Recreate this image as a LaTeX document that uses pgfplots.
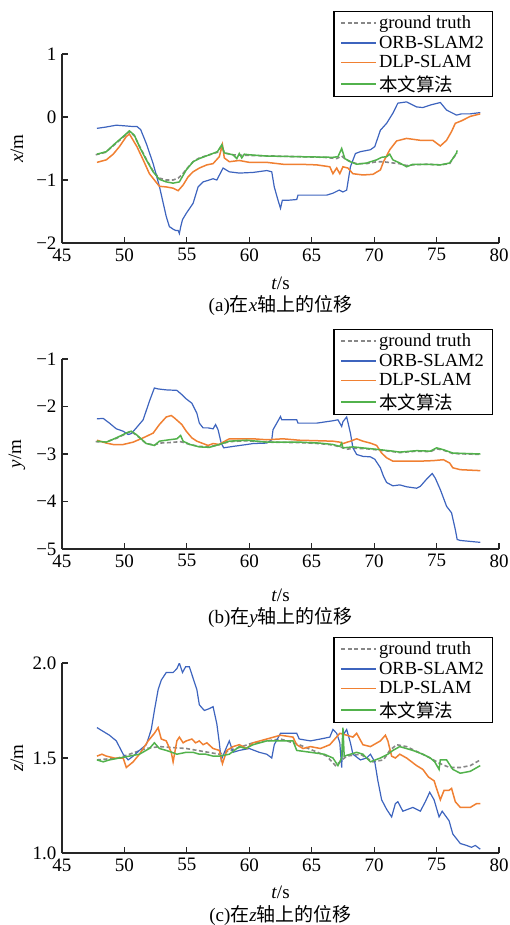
\documentclass[border=0pt]{standalone}
\usepackage{fontspec}
\setmainfont{Liberation Serif}
\newfontfamily\cjk{Noto Sans CJK SC}
\usepackage{pgfplots}
\pgfplotsset{compat=1.18}
\definecolor{cblue}{RGB}{61,100,190}
\definecolor{dlporange}{RGB}{240,128,50}
\definecolor{cgreen}{RGB}{82,178,76}
\definecolor{cgray}{RGB}{135,135,135}
\pgfplotsset{
  myax/.style={
    scale only axis, width=437pt,
    axis x line*=bottom, axis y line*=left,
    xmin=45, xmax=80, xtick={45,50,...,80},
    /pgf/number format/assume math mode=true,
    tick align=inside, major tick length=6pt,
    axis line style={line width=1.2pt, black!85, -},
    tick style={line width=1.2pt, black!85},
    font=\fontsize{19}{21}\selectfont,
    xticklabel style={yshift=-2pt},
    yticklabel style={xshift=-2pt},
    xlabel={\textit{t}/s},
    every axis x label/.style={at={(axis description cs:0.5,0)},anchor=center,yshift=-40pt},
    every axis y label/.style={at={(axis description cs:-0.103,0.5)},anchor=center,rotate=90},
    legend cell align=left,
    legend style={anchor=north east, at={(axis description cs:1,1)}, xshift=-6pt,
      draw=black, line width=1.2pt, font=\fontsize{18.5}{20}\selectfont,
      row sep=2pt, inner xsep=6.5pt, inner ysep=2pt},
  },
  gt/.style={cgray, line width=1.6pt, dash pattern=on 4pt off 2.5pt},
  orb/.style={solid, cblue, line width=1.2pt},
  dlp/.style={solid, dlporange, line width=1.5pt},
  our/.style={solid, cgreen, line width=1.5pt},
  legend image code/.code={\draw[#1] (0pt,0pt) -- (35pt,0pt);},
}
\newcommand{\legs}{%
  \addlegendimage{cgray, line width=1.6pt, dash pattern=on 4pt off 2.5pt}\addlegendentry{ground truth}
  \addlegendimage{color=cblue, line width=1.4pt}\addlegendentry{ORB-SLAM2}
  \addlegendimage{color=dlporange, line width=1.6pt}\addlegendentry{DLP-SLAM}
  \addlegendimage{color=cgreen, line width=1.6pt}\addlegendentry{{\cjk 本文算法}}}
\begin{document}
\begin{tikzpicture}
\useasboundingbox (0,0) rectangle (510pt,-925pt);
% ---------------- panel (a)
\begin{axis}[myax, at={(62pt,-243pt)}, anchor=south west, height=189pt,
  ymin=-2, ymax=1, ytick={-2,-1,0,1}, yticklabels={−2,−1,0,1},
  ylabel={\textit{x}/m}, legend style={yshift=43pt}]
\legs
\addplot[gt, forget plot] coordinates {(47.7,-0.60)(48.5,-0.56)(49.2,-0.44)(49.9,-0.32)(50.4,-0.23)(50.8,-0.30)(51.2,-0.46)(51.75,-0.67)(52.3,-0.86)(52.8,-0.97)(53.35,-1.0)(53.9,-1.0)(54.3,-0.97)(54.6,-0.92)(55.0,-0.82)(55.5,-0.71)(56.0,-0.65)(56.8,-0.60)(57.45,-0.56)(57.8,-0.46)(58.0,-0.57)(58.7,-0.60)(60,-0.61)(62,-0.62)(64,-0.63)(66,-0.64)(67.0,-0.66)(67.4,-0.62)(67.7,-0.67)(68.1,-0.71)(68.6,-0.74)(69.4,-0.74)(70.2,-0.71)(70.75,-0.71)(71.5,-0.73)(72.0,-0.74)(72.6,-0.77)(73.1,-0.76)(74.2,-0.75)(75.3,-0.76)(76.05,-0.74)(76.3,-0.66)(76.65,-0.57)};
\addplot[orb, forget plot] coordinates {(47.8,-0.18)(48.5,-0.16)(49.35,-0.13)(50.0,-0.14)(50.6,-0.15)(51.0,-0.15)(51.3,-0.20)(51.75,-0.42)(52.3,-0.74)(52.8,-1.10)(53.35,-1.58)(53.6,-1.74)(53.9,-1.78)(54.1,-1.80)(54.3,-1.80)(54.4,-1.85)(54.5,-1.75)(54.65,-1.63)(54.95,-1.53)(55.5,-1.37)(55.9,-1.11)(56.3,-1.03)(56.8,-1.00)(57.1,-0.98)(57.4,-1.00)(57.9,-0.81)(58.4,-0.87)(59.2,-0.89)(60.3,-0.88)(61.4,-0.85)(61.8,-0.87)(62.0,-1.11)(62.3,-1.32)(62.5,-1.45)(62.65,-1.32)(63.2,-1.32)(63.8,-1.31)(63.9,-1.24)(65.1,-1.24)(66.2,-1.24)(66.7,-1.21)(67.2,-1.16)(67.5,-1.19)(67.8,-1.16)(68.1,-0.79)(68.5,-0.58)(68.9,-0.55)(69.7,-0.52)(70.05,-0.47)(70.5,-0.21)(71.0,-0.10)(71.5,0.06)(71.9,0.22)(72.6,0.24)(73.4,0.16)(73.9,0.15)(74.5,0.19)(75.3,0.23)(75.8,0.11)(76.6,0.03)(77.0,0.05)(77.7,0.05)(78.5,0.07)};
\addplot[dlp, forget plot] coordinates {(47.8,-0.72)(48.55,-0.68)(49.1,-0.59)(49.6,-0.47)(50.15,-0.31)(50.4,-0.27)(51.0,-0.47)(51.5,-0.68)(52.0,-0.90)(52.6,-1.05)(52.8,-1.10)(53.35,-1.11)(53.9,-1.13)(54.3,-1.17)(54.7,-1.08)(55.1,-0.95)(55.5,-0.87)(56.0,-0.81)(56.6,-0.76)(57.1,-0.74)(57.6,-0.63)(57.85,-0.44)(58.0,-0.65)(58.4,-0.71)(59.2,-0.69)(60.0,-0.72)(61.4,-0.72)(62.7,-0.75)(64.0,-0.75)(65.4,-0.76)(66.45,-0.79)(66.7,-0.90)(67.0,-0.81)(67.25,-0.90)(67.5,-0.79)(67.9,-0.81)(68.3,-0.90)(69.1,-0.92)(69.9,-0.91)(70.5,-0.84)(70.75,-0.71)(71.25,-0.52)(71.8,-0.38)(72.6,-0.34)(73.7,-0.37)(74.7,-0.37)(75.3,-0.46)(75.8,-0.37)(76.2,-0.23)(76.5,-0.10)(77.0,-0.06)(77.7,0.01)(78.5,0.05)};
\addplot[our, forget plot] coordinates {(47.8,-0.59)(48.55,-0.55)(49.2,-0.43)(49.9,-0.31)(50.4,-0.22)(50.8,-0.29)(51.2,-0.47)(51.75,-0.68)(52.3,-0.87)(52.8,-0.99)(53.35,-1.03)(53.9,-1.05)(54.4,-1.03)(54.95,-0.84)(55.5,-0.71)(56.0,-0.66)(56.8,-0.60)(57.45,-0.55)(57.8,-0.44)(58.0,-0.57)(58.7,-0.60)(59.0,-0.66)(59.2,-0.58)(59.4,-0.65)(59.6,-0.59)(60.0,-0.60)(61.4,-0.62)(64.0,-0.63)(66.7,-0.64)(67.1,-0.63)(67.4,-0.50)(67.65,-0.66)(68.1,-0.71)(68.6,-0.75)(69.4,-0.73)(70.2,-0.68)(70.6,-0.64)(71.0,-0.63)(71.25,-0.59)(71.5,-0.68)(72.05,-0.73)(72.6,-0.79)(73.1,-0.75)(74.2,-0.75)(75.3,-0.76)(76.05,-0.73)(76.3,-0.66)(76.6,-0.57)(76.65,-0.53)};
\end{axis}
\node[font=\fontsize{19}{21}\selectfont] at (280.5pt,-305pt) {(a){\cjk 在}\textit{x}{\cjk 轴上的位移}};
% ---------------- panel (b)
\begin{axis}[myax, at={(62pt,-549pt)}, anchor=south west, height=190pt,
  ymin=-5, ymax=-1, ytick={-5,-4,-3,-2,-1}, yticklabels={−5,−4,−3,−2,−1},
  ylabel={\textit{y}/m}, legend style={yshift=30pt},
  every axis x label/.style={at={(axis description cs:0.5,0)},anchor=center,yshift=-46pt}]
\legs
\addplot[gt, forget plot] coordinates {(47.7,-2.74)(48.5,-2.75)(49.35,-2.67)(50.3,-2.55)(50.55,-2.53)(50.95,-2.60)(51.75,-2.78)(52.4,-2.81)(52.8,-2.77)(53.6,-2.76)(54.5,-2.74)(55.25,-2.80)(56.0,-2.84)(56.8,-2.85)(57.6,-2.80)(58.4,-2.74)(59.8,-2.72)(61.4,-2.75)(64,-2.76)(65.6,-2.78)(66.7,-2.81)(67.4,-2.86)(67.8,-2.90)(68.3,-2.88)(69.4,-2.89)(70.5,-2.92)(71.5,-2.95)(72.05,-2.97)(73.4,-2.94)(74.5,-2.95)(75.0,-2.89)(75.55,-2.92)(76.3,-2.99)(78.5,-3.01)};
\addplot[orb, forget plot] coordinates {(47.8,-2.26)(48.3,-2.25)(48.8,-2.35)(49.35,-2.47)(49.9,-2.52)(50.3,-2.59)(50.55,-2.57)(50.95,-2.45)(51.5,-2.28)(52.0,-1.89)(52.4,-1.61)(52.7,-1.63)(53.35,-1.65)(54.2,-1.66)(54.6,-1.75)(54.95,-1.84)(55.4,-1.93)(55.8,-2.14)(56.0,-2.35)(56.3,-2.45)(56.7,-2.45)(57.1,-2.47)(57.3,-2.38)(57.5,-2.49)(57.75,-2.77)(57.95,-2.87)(58.7,-2.84)(59.8,-2.80)(60.3,-2.78)(61.4,-2.77)(61.8,-2.70)(61.9,-2.49)(62.2,-2.35)(62.5,-2.21)(62.6,-2.28)(63.8,-2.28)(63.9,-2.35)(65.4,-2.35)(66.7,-2.30)(67.1,-2.28)(67.4,-2.42)(67.5,-2.32)(67.8,-2.22)(68.1,-2.56)(68.3,-2.87)(68.6,-3.01)(69.1,-3.05)(69.7,-3.06)(70.05,-3.11)(70.5,-3.29)(70.75,-3.47)(71.0,-3.60)(71.5,-3.67)(72.05,-3.65)(72.6,-3.69)(73.4,-3.72)(73.7,-3.68)(74.2,-3.53)(74.65,-3.41)(74.9,-3.51)(75.3,-3.75)(75.8,-4.10)(76.2,-4.24)(76.5,-4.59)(76.65,-4.80)(76.9,-4.82)(77.7,-4.84)(78.5,-4.86)};
\addplot[dlp, forget plot] coordinates {(47.8,-2.71)(48.55,-2.77)(49.1,-2.80)(49.9,-2.80)(50.7,-2.75)(51.5,-2.66)(52.3,-2.56)(52.8,-2.38)(53.35,-2.22)(53.75,-2.19)(54.0,-2.24)(54.6,-2.38)(54.95,-2.52)(55.4,-2.66)(55.8,-2.73)(56.3,-2.78)(56.7,-2.82)(57.1,-2.78)(57.6,-2.80)(57.9,-2.75)(58.4,-2.68)(59.2,-2.68)(60.3,-2.68)(61.4,-2.70)(62.7,-2.68)(64.0,-2.71)(65.4,-2.72)(66.7,-2.73)(67.25,-2.75)(67.5,-2.78)(68.1,-2.73)(68.6,-2.68)(69.1,-2.73)(69.7,-2.77)(70.2,-2.82)(70.6,-2.98)(71.0,-3.08)(71.5,-3.15)(72.6,-3.15)(73.7,-3.15)(74.7,-3.14)(75.55,-3.12)(76.05,-3.19)(76.3,-3.29)(76.9,-3.33)(78.5,-3.35)};
\addplot[our, forget plot] coordinates {(47.8,-2.73)(48.55,-2.75)(49.35,-2.66)(50.3,-2.54)(50.55,-2.52)(50.95,-2.59)(51.75,-2.78)(52.4,-2.82)(52.8,-2.73)(53.6,-2.70)(54.2,-2.68)(54.5,-2.61)(54.7,-2.73)(55.25,-2.80)(56.0,-2.85)(56.8,-2.86)(57.6,-2.80)(58.4,-2.73)(59.8,-2.71)(61.4,-2.75)(64.0,-2.75)(65.6,-2.77)(66.7,-2.80)(67.25,-2.84)(67.4,-2.77)(67.5,-2.87)(68.3,-2.85)(69.4,-2.88)(70.5,-2.91)(71.5,-2.94)(72.05,-2.96)(73.4,-2.93)(74.5,-2.94)(75.0,-2.87)(75.55,-2.91)(76.3,-2.98)(78.5,-3.00)};
\end{axis}
\node[font=\fontsize{19}{21}\selectfont] at (280.5pt,-617pt) {(b){\cjk 在}\textit{y}{\cjk 轴上的位移}};
% ---------------- panel (c)
\begin{axis}[myax, at={(62pt,-853pt)}, anchor=south west, height=190pt,
  ymin=1, ymax=2, ytick={1,1.5,2}, yticklabels={1.0,1.5,2.0},
  ylabel={\textit{z}/m}, legend style={yshift=26pt},
  every axis x label/.style={at={(axis description cs:0.5,0)},anchor=center,yshift=-39pt}]
\legs
\addplot[gt, forget plot] coordinates {(47.8,1.49)(49.5,1.50)(50.4,1.52)(51.75,1.55)(52.8,1.56)(54.95,1.55)(57.6,1.52)(60.3,1.58)(62.5,1.60)(64.0,1.57)(66.2,1.51)(66.9,1.46)(67.8,1.51)(68.9,1.52)(69.9,1.48)(70.75,1.49)(71.25,1.54)(71.8,1.57)(72.6,1.56)(74.2,1.51)(75.3,1.47)(76.05,1.45)(76.9,1.45)(77.7,1.46)(78.5,1.49)};
\addplot[orb, forget plot] coordinates {(47.8,1.66)(48.3,1.64)(48.8,1.62)(49.35,1.59)(49.9,1.52)(50.3,1.49)(50.7,1.51)(51.2,1.54)(51.75,1.57)(52.15,1.65)(52.4,1.75)(52.7,1.86)(52.95,1.91)(53.35,1.95)(53.9,1.95)(54.2,1.97)(54.4,2.0)(54.65,1.95)(54.9,1.98)(55.2,1.98)(55.4,1.94)(55.8,1.86)(56.0,1.78)(56.4,1.75)(56.8,1.76)(57.1,1.77)(57.4,1.68)(57.6,1.58)(57.75,1.49)(58.2,1.56)(58.4,1.59)(58.7,1.53)(59.2,1.54)(60.0,1.55)(60.8,1.53)(61.4,1.52)(61.8,1.50)(62.0,1.57)(62.5,1.63)(63.2,1.63)(63.8,1.63)(64.0,1.60)(64.9,1.59)(65.7,1.60)(66.45,1.61)(66.7,1.65)(67.0,1.63)(67.25,1.58)(67.4,1.45)(67.5,1.62)(67.8,1.65)(68.1,1.58)(68.3,1.52)(68.9,1.49)(69.4,1.50)(69.7,1.52)(70.05,1.48)(70.3,1.38)(70.6,1.28)(71.0,1.23)(71.4,1.19)(71.7,1.26)(71.9,1.27)(72.3,1.22)(73.1,1.24)(73.7,1.22)(74.1,1.27)(74.45,1.32)(74.8,1.28)(75.2,1.19)(75.45,1.22)(76.0,1.17)(76.3,1.10)(76.9,1.05)(77.4,1.04)(77.8,1.03)(78.1,1.04)(78.5,1.02)};
\addplot[dlp, forget plot] coordinates {(47.8,1.51)(48.2,1.52)(48.55,1.51)(49.2,1.50)(49.9,1.50)(50.15,1.45)(50.7,1.48)(51.2,1.52)(51.9,1.59)(52.4,1.63)(52.7,1.66)(52.95,1.60)(53.35,1.59)(53.75,1.53)(53.9,1.48)(54.2,1.59)(54.4,1.61)(54.7,1.58)(54.95,1.59)(55.4,1.60)(55.7,1.58)(56.0,1.59)(56.3,1.57)(56.6,1.58)(57.1,1.55)(57.6,1.54)(57.85,1.47)(58.2,1.54)(58.7,1.56)(59.2,1.57)(59.8,1.55)(60.3,1.58)(61.4,1.60)(62.5,1.62)(63.5,1.61)(63.8,1.57)(64.3,1.55)(64.9,1.56)(65.7,1.55)(66.45,1.57)(67.25,1.63)(67.8,1.62)(68.3,1.61)(68.6,1.63)(69.1,1.57)(69.7,1.56)(70.5,1.59)(70.9,1.62)(71.1,1.59)(71.4,1.51)(71.7,1.50)(72.05,1.52)(72.6,1.50)(73.0,1.48)(73.4,1.46)(73.9,1.44)(74.35,1.40)(74.8,1.38)(75.05,1.33)(75.3,1.28)(75.6,1.33)(76.0,1.33)(76.2,1.34)(76.5,1.27)(76.9,1.24)(77.7,1.24)(78.2,1.26)(78.5,1.26)};
\addplot[our, forget plot] coordinates {(47.8,1.49)(48.3,1.48)(48.8,1.49)(49.6,1.50)(50.4,1.51)(51.2,1.52)(52.0,1.55)(52.4,1.58)(52.8,1.55)(53.35,1.54)(53.8,1.53)(54.2,1.52)(54.95,1.53)(55.5,1.53)(56.0,1.52)(56.5,1.52)(57.1,1.51)(57.6,1.51)(58.4,1.52)(59.2,1.56)(59.7,1.55)(60.3,1.57)(61.4,1.59)(62.5,1.59)(63.5,1.59)(63.8,1.54)(64.9,1.53)(66.0,1.52)(66.7,1.50)(67.1,1.46)(67.4,1.50)(67.5,1.66)(67.6,1.51)(68.1,1.52)(68.6,1.53)(69.1,1.52)(69.7,1.48)(70.5,1.50)(71.1,1.52)(71.5,1.54)(72.05,1.56)(73.1,1.54)(73.9,1.52)(74.5,1.50)(74.85,1.48)(75.2,1.44)(75.3,1.49)(75.8,1.49)(76.3,1.44)(76.9,1.42)(77.7,1.43)(78.5,1.46)};
\end{axis}
\node[font=\fontsize{19}{21}\selectfont] at (280.5pt,-915pt) {(c){\cjk 在}\textit{z}{\cjk 轴上的位移}};
\end{tikzpicture}
\end{document}
